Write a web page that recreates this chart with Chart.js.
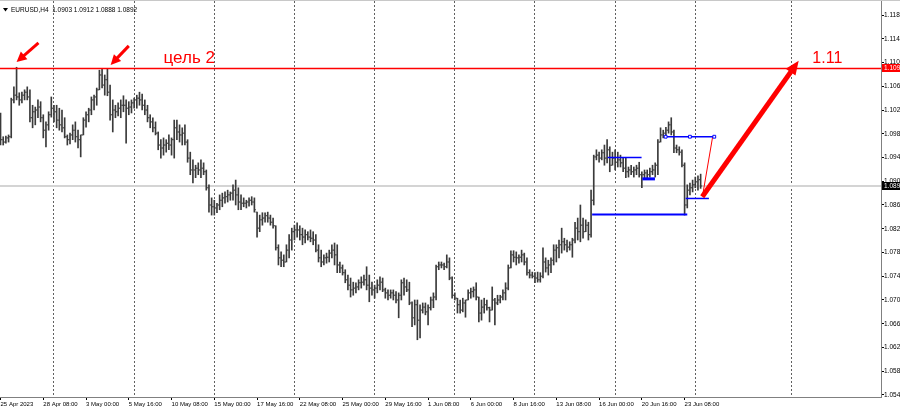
<!DOCTYPE html>
<html lang="ru">
<head>
<meta charset="UTF-8">
<title>EURUSD,H4</title>
<script src="https://cdn.jsdelivr.net/npm/chart.js"></script>
<style>
  html, body { margin: 0; padding: 0; background: #fff; overflow: hidden; }
  canvas { display: block; }
</style>
</head>
<body>
<canvas id="chart" width="900" height="412"></canvas>
<script>
// EURUSD H4, 25 Apr 2023 16:00 .. 26 Jun 2023 08:00 (bar index 0..262)
const symbol = 'EURUSD,H4';
const opens = [
  1.1007, 1.0970, 1.0966, 1.0973, 1.0975, 1.1037, 1.1045, 1.1042, 1.1037, 1.1045,
  1.1050, 1.1042, 1.1007, 1.1017, 1.1020, 1.1025, 1.1007, 1.0986, 1.0995, 1.1012,
  1.1023, 1.1017, 1.1003, 1.0995, 1.0990, 1.0975, 1.0970, 1.0978, 1.0986, 1.0975,
  1.0970, 1.0978, 1.1003, 1.1012, 1.1020, 1.1037, 1.1042, 1.1054, 1.1079, 1.1062,
  1.1071, 1.1050, 1.1012, 1.1020, 1.1017, 1.1023, 1.1028, 1.1028, 1.1023, 1.1025,
  1.1032, 1.1037, 1.1040, 1.1037, 1.1028, 1.1020, 1.1007, 1.1000, 1.0990, 1.0981,
  1.0961, 1.0956, 1.0961, 1.0964, 1.0961, 1.0970, 1.0990, 1.0983, 1.0978, 1.0981,
  1.0966, 1.0939, 1.0919, 1.0919, 1.0922, 1.0919, 1.0922, 1.0916, 1.0889, 1.0860,
  1.0857, 1.0855, 1.0860, 1.0868, 1.0872, 1.0874, 1.0877, 1.0880, 1.0885, 1.0877,
  1.0865, 1.0863, 1.0863, 1.0865, 1.0868, 1.0865, 1.0848, 1.0821, 1.0835, 1.0838,
  1.0842, 1.0838, 1.0831, 1.0825, 1.0788, 1.0771, 1.0767, 1.0764, 1.0784, 1.0801,
  1.0815, 1.0818, 1.0818, 1.0810, 1.0806, 1.0810, 1.0806, 1.0804, 1.0801, 1.0784,
  1.0771, 1.0764, 1.0771, 1.0772, 1.0779, 1.0784, 1.0776, 1.0759, 1.0754, 1.0746,
  1.0734, 1.0725, 1.0717, 1.0720, 1.0722, 1.0729, 1.0730, 1.0734, 1.0725, 1.0720,
  1.0717, 1.0720, 1.0725, 1.0730, 1.0717, 1.0712, 1.0708, 1.0712, 1.0708, 1.0700,
  1.0708, 1.0729, 1.0722, 1.0717, 1.0695, 1.0670, 1.0692, 1.0666, 1.0683, 1.0688,
  1.0680, 1.0687, 1.0700, 1.0705, 1.0756, 1.0759, 1.0759, 1.0756, 1.0764, 1.0737,
  1.0708, 1.0703, 1.0692, 1.0683, 1.0695, 1.0700, 1.0712, 1.0714, 1.0717, 1.0705,
  1.0678, 1.0688, 1.0692, 1.0687, 1.0683, 1.0700, 1.0695, 1.0700, 1.0705, 1.0712,
  1.0720, 1.0754, 1.0776, 1.0772, 1.0771, 1.0772, 1.0776, 1.0764, 1.0746, 1.0742,
  1.0740, 1.0737, 1.0734, 1.0740, 1.0764, 1.0754, 1.0759, 1.0767, 1.0784, 1.0788,
  1.0793, 1.0798, 1.0793, 1.0789, 1.0793, 1.0801, 1.0821, 1.0815, 1.0826, 1.0815,
  1.0826, 1.0810, 1.0868, 1.0941, 1.0944, 1.0939, 1.0948, 1.0939, 1.0953, 1.0927,
  1.0939, 1.0932, 1.0936, 1.0931, 1.0922, 1.0916, 1.0919, 1.0916, 1.0919, 1.0922,
  1.0911, 1.0911, 1.0914, 1.0911, 1.0916, 1.0919, 1.0927, 1.0966, 1.0978, 1.0981,
  1.0986, 1.0995, 1.0983, 1.0956, 1.0953, 1.0949, 1.0927, 1.0860, 1.0885, 1.0889,
  1.0894, 1.0899, 1.0903
];
const highs = [
  1.1015, 1.0975, 1.0976, 1.0978, 1.1040, 1.1059, 1.1092, 1.1049, 1.1050, 1.1054,
  1.1059, 1.1054, 1.1028, 1.1025, 1.1037, 1.1034, 1.1012, 1.1000, 1.1017, 1.1042,
  1.1028, 1.1028, 1.1023, 1.1020, 1.1007, 1.0978, 1.0981, 1.0995, 1.1000, 1.0986,
  1.0978, 1.1007, 1.1017, 1.1023, 1.1042, 1.1045, 1.1057, 1.1087, 1.1089, 1.1079,
  1.1089, 1.1062, 1.1037, 1.1028, 1.1032, 1.1037, 1.1044, 1.1037, 1.1034, 1.1037,
  1.1040, 1.1045, 1.1050, 1.1047, 1.1037, 1.1028, 1.1012, 1.1007, 1.1000, 1.0983,
  1.0970, 1.0973, 1.0970, 1.0978, 1.0973, 1.1003, 1.1003, 1.0995, 1.0990, 1.0995,
  1.0970, 1.0949, 1.0936, 1.0927, 1.0931, 1.0936, 1.0931, 1.0919, 1.0894, 1.0872,
  1.0868, 1.0863, 1.0877, 1.0880, 1.0882, 1.0885, 1.0882, 1.0894, 1.0902, 1.0889,
  1.0877, 1.0872, 1.0868, 1.0872, 1.0874, 1.0872, 1.0848, 1.0843, 1.0847, 1.0847,
  1.0848, 1.0843, 1.0838, 1.0825, 1.0793, 1.0781, 1.0776, 1.0793, 1.0810, 1.0821,
  1.0826, 1.0830, 1.0825, 1.0821, 1.0818, 1.0815, 1.0818, 1.0815, 1.0810, 1.0793,
  1.0784, 1.0776, 1.0779, 1.0784, 1.0793, 1.0796, 1.0793, 1.0764, 1.0759, 1.0751,
  1.0742, 1.0737, 1.0730, 1.0729, 1.0734, 1.0739, 1.0742, 1.0756, 1.0742, 1.0730,
  1.0725, 1.0734, 1.0739, 1.0737, 1.0720, 1.0717, 1.0717, 1.0717, 1.0714, 1.0712,
  1.0734, 1.0737, 1.0734, 1.0730, 1.0697, 1.0700, 1.0700, 1.0692, 1.0695, 1.0695,
  1.0692, 1.0705, 1.0712, 1.0759, 1.0764, 1.0764, 1.0762, 1.0776, 1.0771, 1.0739,
  1.0712, 1.0703, 1.0700, 1.0703, 1.0700, 1.0717, 1.0720, 1.0722, 1.0729, 1.0705,
  1.0700, 1.0703, 1.0700, 1.0688, 1.0722, 1.0703, 1.0708, 1.0708, 1.0717, 1.0729,
  1.0759, 1.0783, 1.0783, 1.0781, 1.0776, 1.0784, 1.0779, 1.0771, 1.0751, 1.0747,
  1.0746, 1.0747, 1.0746, 1.0788, 1.0771, 1.0767, 1.0771, 1.0793, 1.0793, 1.0801,
  1.0821, 1.0804, 1.0801, 1.0798, 1.0804, 1.0831, 1.0838, 1.0860, 1.0838, 1.0835,
  1.0831, 1.0885, 1.0944, 1.0953, 1.0949, 1.0953, 1.0961, 1.0970, 1.0958, 1.0949,
  1.0953, 1.0949, 1.0944, 1.0939, 1.0939, 1.0924, 1.0927, 1.0924, 1.0927, 1.0932,
  1.0916, 1.0919, 1.0919, 1.0922, 1.0927, 1.0931, 1.0970, 1.0990, 1.0986, 1.0991,
  1.1000, 1.1007, 1.0986, 1.0961, 1.0958, 1.0953, 1.0931, 1.0894, 1.0897, 1.0902,
  1.0907, 1.0909, 1.0912
];
const lows = [
  1.0961, 1.0961, 1.0964, 1.0966, 1.0973, 1.1032, 1.1037, 1.1028, 1.1032, 1.1037,
  1.1037, 1.1000, 1.0990, 1.0995, 1.1007, 1.1000, 1.0973, 1.0958, 1.0986, 1.1008,
  1.1000, 1.0990, 1.0986, 1.0983, 1.0973, 1.0961, 1.0963, 1.0970, 1.0966, 1.0956,
  1.0941, 1.0978, 1.0991, 1.1000, 1.1012, 1.1020, 1.1028, 1.1054, 1.1057, 1.1045,
  1.1044, 1.1003, 1.0983, 1.1007, 1.1010, 1.1007, 1.1017, 1.0964, 1.1012, 1.1015,
  1.1023, 1.1023, 1.1028, 1.1020, 1.1012, 1.1000, 1.0990, 1.0983, 1.0978, 1.0953,
  1.0939, 1.0944, 1.0949, 1.0953, 1.0944, 1.0939, 1.0970, 1.0966, 1.0961, 1.0961,
  1.0932, 1.0911, 1.0897, 1.0906, 1.0911, 1.0906, 1.0911, 1.0885, 1.0848, 1.0843,
  1.0843, 1.0847, 1.0852, 1.0857, 1.0863, 1.0865, 1.0868, 1.0868, 1.0860, 1.0852,
  1.0852, 1.0857, 1.0855, 1.0858, 1.0860, 1.0848, 1.0806, 1.0815, 1.0826, 1.0831,
  1.0831, 1.0826, 1.0821, 1.0784, 1.0759, 1.0756, 1.0756, 1.0764, 1.0771, 1.0784,
  1.0801, 1.0806, 1.0801, 1.0793, 1.0796, 1.0801, 1.0798, 1.0793, 1.0781, 1.0764,
  1.0756, 1.0759, 1.0762, 1.0764, 1.0771, 1.0759, 1.0746, 1.0746, 1.0742, 1.0729,
  1.0717, 1.0705, 1.0708, 1.0712, 1.0717, 1.0720, 1.0725, 1.0717, 1.0697, 1.0708,
  1.0703, 1.0712, 1.0717, 1.0714, 1.0703, 1.0700, 1.0703, 1.0700, 1.0695, 1.0670,
  1.0700, 1.0708, 1.0714, 1.0692, 1.0655, 1.0658, 1.0633, 1.0636, 1.0678, 1.0675,
  1.0658, 1.0683, 1.0687, 1.0700, 1.0751, 1.0754, 1.0751, 1.0754, 1.0734, 1.0703,
  1.0700, 1.0678, 1.0678, 1.0680, 1.0671, 1.0700, 1.0703, 1.0705, 1.0700, 1.0663,
  1.0666, 1.0678, 1.0683, 1.0663, 1.0683, 1.0658, 1.0692, 1.0695, 1.0700, 1.0700,
  1.0717, 1.0754, 1.0764, 1.0759, 1.0762, 1.0764, 1.0759, 1.0742, 1.0737, 1.0737,
  1.0729, 1.0730, 1.0730, 1.0737, 1.0747, 1.0742, 1.0746, 1.0759, 1.0764, 1.0771,
  1.0779, 1.0784, 1.0781, 1.0784, 1.0772, 1.0796, 1.0801, 1.0798, 1.0804, 1.0815,
  1.0801, 1.0806, 1.0860, 1.0936, 1.0932, 1.0936, 1.0927, 1.0931, 1.0916, 1.0927,
  1.0919, 1.0924, 1.0924, 1.0916, 1.0906, 1.0907, 1.0911, 1.0907, 1.0911, 1.0907,
  1.0889, 1.0906, 1.0906, 1.0907, 1.0911, 1.0907, 1.0911, 1.0966, 1.0973, 1.0975,
  1.0981, 1.0978, 1.0948, 1.0948, 1.0944, 1.0924, 1.0843, 1.0855, 1.0877, 1.0882,
  1.0889, 1.0885, 1.0888
];
const closes = [
  1.0970, 1.0966, 1.0973, 1.0975, 1.1037, 1.1045, 1.1042, 1.1037, 1.1045, 1.1050,
  1.1042, 1.1007, 1.1017, 1.1020, 1.1025, 1.1007, 1.0986, 1.0995, 1.1012, 1.1023,
  1.1017, 1.1003, 1.0995, 1.0990, 1.0975, 1.0970, 1.0978, 1.0986, 1.0975, 1.0970,
  1.0978, 1.1003, 1.1012, 1.1020, 1.1037, 1.1042, 1.1054, 1.1079, 1.1062, 1.1071,
  1.1050, 1.1012, 1.1020, 1.1017, 1.1023, 1.1028, 1.1028, 1.1023, 1.1025, 1.1032,
  1.1037, 1.1040, 1.1037, 1.1028, 1.1020, 1.1007, 1.1000, 1.0990, 1.0981, 1.0961,
  1.0956, 1.0961, 1.0964, 1.0961, 1.0970, 1.0990, 1.0983, 1.0978, 1.0981, 1.0966,
  1.0939, 1.0919, 1.0919, 1.0922, 1.0919, 1.0922, 1.0916, 1.0889, 1.0860, 1.0857,
  1.0855, 1.0860, 1.0868, 1.0872, 1.0874, 1.0877, 1.0880, 1.0885, 1.0877, 1.0865,
  1.0863, 1.0863, 1.0865, 1.0868, 1.0865, 1.0852, 1.0821, 1.0835, 1.0838, 1.0842,
  1.0838, 1.0831, 1.0825, 1.0788, 1.0771, 1.0767, 1.0764, 1.0784, 1.0801, 1.0815,
  1.0818, 1.0818, 1.0810, 1.0806, 1.0810, 1.0806, 1.0804, 1.0801, 1.0784, 1.0771,
  1.0764, 1.0771, 1.0772, 1.0779, 1.0784, 1.0776, 1.0759, 1.0754, 1.0746, 1.0734,
  1.0725, 1.0717, 1.0720, 1.0722, 1.0729, 1.0730, 1.0734, 1.0725, 1.0720, 1.0717,
  1.0720, 1.0725, 1.0730, 1.0717, 1.0712, 1.0708, 1.0712, 1.0708, 1.0700, 1.0708,
  1.0729, 1.0722, 1.0717, 1.0695, 1.0670, 1.0692, 1.0666, 1.0683, 1.0688, 1.0680,
  1.0687, 1.0700, 1.0705, 1.0756, 1.0759, 1.0759, 1.0756, 1.0764, 1.0737, 1.0708,
  1.0703, 1.0692, 1.0683, 1.0695, 1.0700, 1.0712, 1.0714, 1.0717, 1.0705, 1.0678,
  1.0688, 1.0692, 1.0687, 1.0683, 1.0700, 1.0695, 1.0700, 1.0705, 1.0712, 1.0720,
  1.0754, 1.0776, 1.0772, 1.0771, 1.0772, 1.0776, 1.0764, 1.0746, 1.0742, 1.0740,
  1.0737, 1.0734, 1.0740, 1.0764, 1.0754, 1.0759, 1.0767, 1.0784, 1.0788, 1.0793,
  1.0798, 1.0793, 1.0789, 1.0793, 1.0801, 1.0821, 1.0815, 1.0826, 1.0815, 1.0826,
  1.0810, 1.0868, 1.0941, 1.0944, 1.0939, 1.0948, 1.0939, 1.0953, 1.0927, 1.0939,
  1.0932, 1.0936, 1.0931, 1.0922, 1.0916, 1.0919, 1.0916, 1.0919, 1.0922, 1.0911,
  1.0911, 1.0914, 1.0911, 1.0916, 1.0919, 1.0927, 1.0966, 1.0978, 1.0981, 1.0986,
  1.0995, 1.0983, 1.0956, 1.0953, 1.0949, 1.0927, 1.0860, 1.0885, 1.0889, 1.0894,
  1.0899, 1.0902, 1.0892
];

// time axis: a label every 16 bars
const xTickIdx = [0, 16, 32, 48, 64, 80, 96, 112, 128, 144, 160, 176, 192, 208, 224, 240, 256];
const xTickLabels = ['25 Apr 2023', '28 Apr 08:00', '3 May 00:00', '5 May 16:00', '10 May 08:00',
  '15 May 00:00', '17 May 16:00', '22 May 08:00', '25 May 00:00', '29 May 16:00', '1 Jun 08:00',
  '6 Jun 00:00', '8 Jun 16:00', '13 Jun 08:00', '16 Jun 00:00', '20 Jun 16:00', '23 Jun 08:00'];
// dotted verticals (week starts + one in the future)
const gridIdx = [20, 50, 80, 110, 140, 170, 200, 230, 260, 296];
const yTicks = [1.054, 1.058, 1.062, 1.066, 1.070, 1.074, 1.078, 1.082, 1.086,
  1.090, 1.094, 1.098, 1.102, 1.106, 1.110, 1.114, 1.118];

const targetPrice = 1.1090;   // "цель 2"
const bidPrice = 1.0892;

// drawn objects: [bar1, price1, bar2, price2]
const blueLevels = [
  [221.4, 1.0844, 257.0, 1.0844],
  [227.2, 1.0940, 239.9, 1.0940],
  [240.2, 1.0904, 244.9, 1.0904],
  [248.9, 1.0975, 267.1, 1.0975],
  [256.4, 1.0871, 265.1, 1.0871]
];
const thinRedLine = [266.5, 1.0975, 262.7, 1.0875];
const bigArrow = [262.6, 1.0874, 298.7, 1.1103];
const peakArrows = [
  [14.2, 1.1133, 6.0, 1.1101],
  [48.0, 1.1128, 41.2, 1.1096]
];
const labels = [
  { text: 'цель 2', bar: 61.0, price: 1.1099, size: 17 },
  { text: '1.11', bar: 303.8, price: 1.1099, size: 16 }
];

const X_MIN = -0.2, X_MAX = 329.5;
const Y_MIN = 1.05366, Y_MAX = 1.12036;
const FONT = "'Liberation Sans', Arial, sans-serif";
const BAR_COLOR = '#3a3a3a';

function seg(l) { return [{ x: l[0], y: l[1] }, { x: l[2], y: l[3] }]; }

function drawArrow(ctx, x1, y1, x2, y2, lw, hl, hw) {
  const a = Math.atan2(y2 - y1, x2 - x1);
  const bx = x2 - Math.cos(a) * hl, by = y2 - Math.sin(a) * hl;
  ctx.lineWidth = lw;
  ctx.beginPath();
  ctx.moveTo(x1, y1);
  ctx.lineTo(bx + Math.cos(a), by + Math.sin(a));
  ctx.stroke();
  ctx.beginPath();
  ctx.moveTo(x2, y2);
  ctx.lineTo(bx + Math.sin(a) * hw / 2, by - Math.cos(a) * hw / 2);
  ctx.lineTo(bx - Math.sin(a) * hw / 2, by + Math.cos(a) * hw / 2);
  ctx.closePath();
  ctx.fill();
}

const overlay = {
  id: 'overlay',
  afterDraw(chart) {
    const { ctx, chartArea: ca } = chart;
    const sx = chart.scales.x, sy = chart.scales.y;
    const px = v => sx.getPixelForValue(v), py = v => sy.getPixelForValue(v);
    ctx.save();
    ctx.beginPath();
    ctx.rect(ca.left, ca.top, ca.right - ca.left, ca.bottom - ca.top);
    ctx.clip();

    ctx.strokeStyle = '#ff0000';
    ctx.fillStyle = '#ff0000';
    drawArrow(ctx, px(bigArrow[0]), py(bigArrow[1]), px(bigArrow[2]), py(bigArrow[3]), 5, 14, 12);
    peakArrows.forEach(a => drawArrow(ctx, px(a[0]), py(a[1]), px(a[2]), py(a[3]), 3, 10, 10));

    labels.forEach(l => {
      ctx.font = l.size + 'px ' + FONT;
      ctx.textAlign = 'left';
      ctx.textBaseline = 'alphabetic';
      ctx.fillText(l.text, px(l.bar), py(l.price));
    });

    // symbol header
    ctx.fillStyle = '#000';
    ctx.beginPath();
    ctx.moveTo(3, 8); ctx.lineTo(8, 8); ctx.lineTo(5.5, 11.5); ctx.closePath();
    ctx.fill();
    ctx.font = '6.5px ' + FONT;
    ctx.textBaseline = 'middle';
    ctx.fillText(symbol + '  ' + [opens, highs, lows, closes].map(a => a[a.length - 1].toFixed(4)).join(' '), 11, 10);
    ctx.restore();

    // price boxes on the axis
    ctx.save();
    ctx.font = '6.5px ' + FONT;
    ctx.textBaseline = 'middle';
    ctx.textAlign = 'left';
    [[targetPrice, '#ff0000'], [bidPrice, '#000000']].forEach(([p, c]) => {
      const y = py(p);
      ctx.fillStyle = c;
      ctx.fillRect(ca.right + 1, Math.round(y) - 4, 20, 8);
      ctx.fillStyle = '#fff';
      ctx.fillText(p.toFixed(4), ca.right + 3, y);
    });
    ctx.fillStyle = '#c8c8c8';
    ctx.fillRect(0, 0, 900, 1);
    ctx.restore();
  }
};

const blueWidths = [2, 1.5, 3, 1.5, 1.5];
const tick = { type: 'scatter', pointStyle: 'line', radius: 0.5, hoverRadius: 0, hitRadius: 0,
  borderColor: BAR_COLOR, borderWidth: 1, order: 9 };
const datasets = [
  {
    type: 'bar',
    data: highs.map((h, i) => ({ x: i, y: [lows[i], h] })),
    backgroundColor: BAR_COLOR,
    barThickness: 1,
    order: 10
  },
  Object.assign({ data: opens.map((v, i) => ({ x: i - 0.37, y: v })) }, tick),
  Object.assign({ data: closes.map((v, i) => ({ x: i + 0.37, y: v })) }, tick),
  {
    type: 'line',
    data: seg([X_MIN, bidPrice, X_MAX, bidPrice]),
    borderColor: '#d4d4d4', borderWidth: 2, pointRadius: 0,
    order: 11
  },
  {
    type: 'line',
    data: seg([X_MIN, targetPrice, X_MAX, targetPrice]),
    borderColor: '#ff0000', borderWidth: 1.5, pointRadius: 0,
    order: 2
  },
  {
    type: 'line',
    data: seg(thinRedLine),
    borderColor: '#ff0000', borderWidth: 1, pointRadius: 0,
    order: 2
  }
];
blueLevels.forEach((l, k) => {
  const pts = seg(l);
  const selected = k === 3;
  if (selected) pts.splice(1, 0, { x: (l[0] + l[2]) / 2, y: l[1] });
  datasets.push({
    type: 'line',
    data: pts,
    borderColor: '#0000ff', borderWidth: blueWidths[k],
    pointRadius: selected ? 2 : 0, hoverRadius: 0, pointStyle: 'rect',
    pointBackgroundColor: '#fff', pointBorderColor: '#0000ff', pointBorderWidth: 1,
    order: 1
  });
});

new Chart(document.getElementById('chart'), {
  type: 'bar',
  data: { datasets },
  options: {
    responsive: false,
    animation: false,
    devicePixelRatio: 1,
    events: [],
    layout: { autoPadding: false, padding: { top: 1, left: 0, right: 0, bottom: 0 } },
    plugins: { legend: { display: false }, tooltip: { enabled: false } },
    scales: {
      x: {
        type: 'linear', min: X_MIN, max: X_MAX, offset: false,
        afterBuildTicks: s => { s.ticks = xTickIdx.map(v => ({ value: v })); },
        afterFit: s => { s.height = 15; s.paddingLeft = 0; s.paddingRight = 0; },
        ticks: {
          align: 'start', maxRotation: 0, autoSkip: false, padding: 1, color: '#000',
          font: { family: FONT, size: 6 },
          callback: (v, i) => xTickLabels[i]
        },
        grid: { offset: false, drawOnChartArea: false, tickLength: 3, tickColor: '#000' },
        border: { color: '#808080', width: 1 }
      },
      xw: {
        type: 'linear', position: 'bottom', min: X_MIN, max: X_MAX, offset: false,
        afterBuildTicks: s => { s.ticks = gridIdx.map(v => ({ value: v })); },
        afterFit: s => { s.height = 0; s.paddingLeft = 0; s.paddingRight = 0; },
        ticks: { display: false },
        grid: { offset: false, drawTicks: false, color: '#606060', lineWidth: 1 },
        border: { display: false, dash: [2, 2] }
      },
      y: {
        type: 'linear', position: 'right', min: Y_MIN, max: Y_MAX,
        afterBuildTicks: s => { s.ticks = yTicks.map(v => ({ value: v })); },
        afterFit: s => { s.width = 19; s.paddingTop = 0; s.paddingBottom = 0; },
        ticks: {
          autoSkip: false, padding: 0, color: '#000',
          font: { family: FONT, size: 6.5 },
          callback: v => v.toFixed(3)
        },
        grid: { drawOnChartArea: false, tickLength: 3, tickColor: '#000' },
        border: { color: '#808080', width: 1 }
      }
    }
  },
  plugins: [overlay]
});
</script>
</body>
</html>
